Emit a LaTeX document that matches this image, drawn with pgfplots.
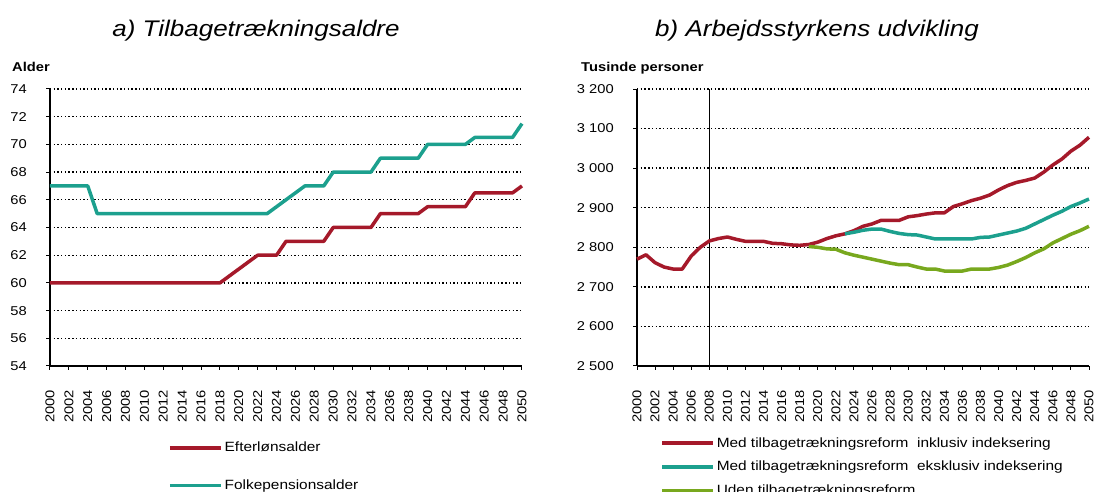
\documentclass[border=0pt]{standalone}
\usepackage{pgfplots}
\pgfplotsset{compat=1.18}
\usepackage{fontspec}
\setmainfont{Liberation Sans}[FakeStretch=1.15]
\definecolor{cred}{RGB}{165,25,42}
\definecolor{cteal}{RGB}{28,160,142}
\definecolor{cgreen}{RGB}{120,168,30}
\pgfplotsset{
  myaxis/.style={
    scale only axis,
    height=277pt,
    axis x line*=bottom, axis y line*=left,
    axis line style={-, line width=1.3pt, black},
    tick align=outside, major tick length=4pt,
    tick style={black, line width=1pt},
    ymajorgrids, grid style={black, line width=1.3pt, dash pattern=on 1.4pt off 2.3pt},
    xmin=2000, xmax=2050,
    xtick={2000,2002,...,2050},
    /pgf/number format/assume math mode=true,
    /pgf/number format/1000 sep={},
    ticklabel style={font=\fontsize{12.8}{15}\selectfont, inner sep=0pt},
    xticklabel style={rotate=90, anchor=east},
    xticklabel shift=20pt,
    yticklabel shift=19pt,
    legend cell align=left,
    legend image code/.code={\draw[#1, line width=3.5pt] (0pt,0pt) -- (51pt,0pt);},
    clip=false,
  }
}
\begin{document}
\begin{tikzpicture}
\useasboundingbox (0,0) rectangle (1101pt,492pt);
\node[anchor=base, font=\fontsize{22.6}{26}\selectfont\itshape] at (256pt,455pt) {a) Tilbagetrækningsaldre};
\node[anchor=base, font=\fontsize{22.6}{26}\selectfont\itshape] at (817pt,455pt) {b) Arbejdsstyrkens udvikling};
\node[anchor=base west, inner sep=0pt, font=\fontsize{12.8}{15}\selectfont\bfseries] at (12pt,420pt) {Alder};
\node[anchor=base west, inner sep=0pt, font=\fontsize{12.8}{15}\selectfont\bfseries] at (581pt,420pt) {Tusinde personer};

\begin{axis}[myaxis, at={(50pt,126pt)}, anchor=south west, width=472pt,
  ymin=54, ymax=74, ytick={54,56,...,74},
  legend style={at={(0.25,-0.267)}, anchor=north west, draw=none, fill=none,
    inner sep=0pt, row sep=22.5pt, font=\fontsize{13.4}{15}\selectfont,
    nodes={inner sep=2pt}},
]
\addplot[cred, line width=3.5pt, line join=round] coordinates {
(2000,60) (2018,60) (2019,60.5) (2020,61) (2021,61.5) (2022,62) (2024,62) (2025,63) (2029,63) (2030,64) (2034,64) (2035,65) (2039,65) (2040,65.5) (2044,65.5) (2045,66.5) (2049,66.5) (2050,67)};
\addlegendentry{Efterlønsalder}
\addplot[cteal, line width=3.5pt, line join=round] coordinates {
(2000,67) (2004,67) (2005,65) (2023,65) (2024,65.5) (2025,66) (2026,66.5) (2027,67) (2029,67) (2030,68) (2034,68) (2035,69) (2039,69) (2040,70) (2044,70) (2045,70.5) (2049,70.5) (2050,71.5)};
\addlegendentry{Folkepensionsalder}
\end{axis}

\begin{axis}[myaxis, at={(637pt,126pt)}, anchor=south west, width=452pt,
  ymin=2500, ymax=3200, ytick={2500,2600,...,3200},
  yticklabels={2 500,2 600,2 700,2 800,2 900,3 000,3 100,3 200},
  legend style={at={(0.051,-0.250)}, anchor=north west, draw=none, fill=none,
    inner sep=0pt, row sep=8.5pt, font=\fontsize{13.4}{15}\selectfont,
    nodes={inner sep=2pt}},
]
\addplot[black, line width=1.6pt, forget plot] coordinates {(2008,2500) (2008,3200)};
\addplot[cred, line width=3.5pt, line join=round] coordinates {
(2000,2770) (2001,2781) (2002,2761) (2003,2750) (2004,2745) (2005,2745) (2006,2778) (2007,2800) (2008,2816) (2009,2822) (2010,2826) (2011,2820) (2012,2815) (2013,2815) (2014,2815) (2015,2810) (2016,2809) (2017,2806) (2018,2805) (2019,2807) (2020,2813) (2021,2822) (2022,2829) (2023,2834) (2024,2842) (2025,2853) (2026,2859) (2027,2868) (2028,2868) (2029,2868) (2030,2877) (2031,2880) (2032,2884) (2033,2887) (2034,2887) (2035,2903) (2036,2910) (2037,2918) (2038,2924) (2039,2932) (2040,2945) (2041,2956) (2042,2964) (2043,2969) (2044,2975) (2045,2990) (2046,3008) (2047,3023) (2048,3043) (2049,3058) (2050,3078)};
\addlegendentry{Med tilbagetrækningsreform\ \ inklusiv indeksering}
\addplot[cteal, line width=3.5pt, line join=round] coordinates {
(2023,2834) (2024,2838) (2025,2843) (2026,2846) (2027,2846) (2028,2840) (2029,2835) (2030,2832) (2031,2831) (2032,2826) (2033,2821) (2034,2821) (2035,2821) (2036,2821) (2037,2821) (2038,2825) (2039,2826) (2040,2831) (2041,2836) (2042,2841) (2043,2848) (2044,2859) (2045,2870) (2046,2881) (2047,2891) (2048,2903) (2049,2912) (2050,2922)};
\addlegendentry{Med tilbagetrækningsreform\ \ eksklusiv indeksering}
\addplot[cgreen, line width=3.5pt, line join=round] coordinates {
(2019,2802) (2020,2800) (2021,2796) (2022,2795) (2023,2786) (2024,2780) (2025,2775) (2026,2770) (2027,2765) (2028,2760) (2029,2756) (2030,2756) (2031,2750) (2032,2745) (2033,2745) (2034,2740) (2035,2740) (2036,2740) (2037,2745) (2038,2745) (2039,2745) (2040,2749) (2041,2755) (2042,2764) (2043,2774) (2044,2786) (2045,2796) (2046,2811) (2047,2822) (2048,2833) (2049,2842) (2050,2853)};
\addlegendentry{Uden tilbagetrækningsreform}
\end{axis}
\end{tikzpicture}
\end{document}
